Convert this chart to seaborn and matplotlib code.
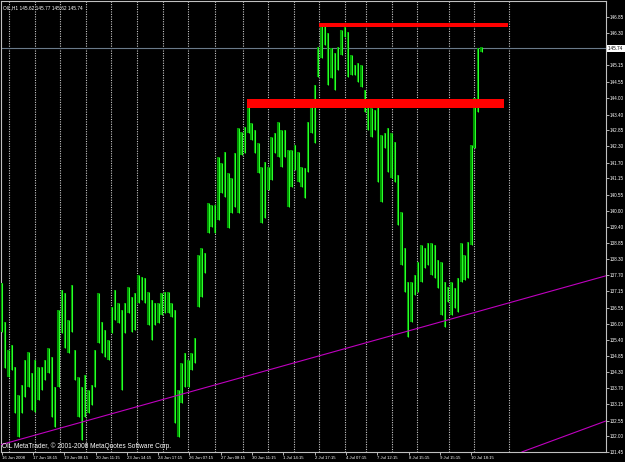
import numpy as np
import pandas as pd
import matplotlib
matplotlib.use("Agg")
import matplotlib.pyplot as plt
import matplotlib.transforms as mtransforms
import seaborn as sns

# ---------------- data ----------------
highs = [137.43, 136.05, 135.06, 135.24, 134.46, 133.47, 133.82, 134.71, 134.99, 134.25,
         134.71, 134.46, 134.46, 134.71, 135.13, 134.81, 133.75, 136.48, 137.19, 137.08,
         136.12, 137.36, 135.06, 134.11, 133.75, 134.18, 133.65, 133.82, 135.06, 137.08,
         136.05, 135.77, 135.42, 136.58, 137.19, 136.73, 136.48, 136.73, 137.29, 136.94,
         137.08, 137.72, 137.65, 137.61, 137.12, 136.83, 136.73, 136.73, 137.08, 137.12,
         137.12,
         136.73, 136.48, 133.65, 134.60, 134.96, 134.71, 134.96, 135.49, 138.43, 138.67,
         138.50, 140.27, 140.20, 140.20, 141.89, 141.68, 142.07, 141.33, 141.15, 142.04,
         142.92, 142.78, 142.96, 143.84, 143.10, 142.85, 142.39, 141.54, 141.72, 141.54,
         142.60, 142.74, 143.13, 142.85, 142.85, 142.14, 142.14, 142.32, 142.07, 141.54,
         141.51, 143.13, 143.74,
         144.44, 145.79, 146.57, 146.64, 146.28, 145.75, 145.58, 145.79, 146.39, 146.50,
         146.32, 145.51, 145.15, 145.22, 145.15, 144.27, 143.91, 143.63, 143.56, 143.84,
         142.67, 142.74, 142.92, 142.74, 142.43, 141.26, 139.95, 138.67, 137.47, 137.47,
         137.72, 138.18, 138.78, 138.67, 138.85, 138.85, 138.78, 138.25, 138.18, 137.47,
         137.29, 137.47, 137.26, 137.61, 138.85, 138.43, 138.89, 142.32, 143.98, 145.75,
         145.79]
lows = [135.70, 134.43, 134.11, 134.35, 132.83, 131.98, 132.83, 133.40, 133.75, 132.94,
        132.87, 133.29, 133.65, 134.00, 134.25, 132.69, 132.34, 133.75, 135.66, 135.13,
        134.96, 135.70, 134.00, 132.69, 131.88, 132.69, 132.83, 133.12, 133.75, 135.31,
        134.96, 134.81, 134.71, 135.66, 136.12, 136.02, 133.65, 135.66, 136.37, 135.70,
        135.77, 136.73, 136.83, 136.73, 135.95, 135.42, 135.95, 136.02, 136.30, 136.37,
        136.37,
        136.23, 132.48, 131.98, 133.19, 133.75, 133.75, 134.35, 134.60, 136.58, 136.94,
        137.79, 139.20, 139.42, 139.20, 139.66, 140.62, 140.48, 139.38, 139.91, 140.12,
        139.91, 141.97, 142.04, 142.74, 142.50, 142.04, 141.33, 139.56, 139.73, 140.73,
        141.08, 142.04, 141.89, 141.54, 141.89, 140.12, 140.83, 141.43, 141.01, 140.83,
        140.44, 141.36, 142.74,
        142.39, 144.73, 145.40, 145.86, 144.44, 144.69, 144.27, 144.97, 145.51, 146.14,
        144.73, 144.80, 144.80, 144.55, 144.37, 143.49, 142.85, 142.60, 142.85, 141.01,
        140.30, 142.21, 141.36, 141.15, 141.01, 139.49, 138.07, 137.12, 135.52, 136.05,
        137.01, 137.12, 137.47, 137.97, 138.07, 137.72, 137.61, 137.26, 136.30, 135.88,
        136.76, 136.30, 136.55, 136.41, 137.47, 137.54, 137.61, 138.78, 142.21, 143.49,
        145.61]

date_labels = ["16 Jun 2008", "17 Jun 18:15", "19 Jun 08:15", "20 Jun 11:15",
               "23 Jun 14:15", "24 Jun 17:15", "26 Jun 07:15", "27 Jun 08:15",
               "30 Jun 11:15", "1 Jul 14:15", "2 Jul 17:15", "4 Jul 07:15",
               "7 Jul 12:15", "8 Jul 15:15", "9 Jul 15:15", "10 Jul 18:15"]
date_label_bars = [0.0, 9.4, 18.8, 28.2, 37.6, 47.0, 56.4, 65.8, 75.2, 84.6,
                   94.0, 103.4, 112.8, 122.2, 131.6, 141.0]

price_ticks = [146.85, 146.30, 145.15, 144.55, 144.00, 143.40, 142.85, 142.30,
               141.70, 141.15, 140.55, 140.00, 139.40, 138.85, 138.30, 137.70,
               137.15, 136.55, 136.00, 135.40, 134.85, 134.30, 133.70, 133.15,
               132.55, 132.00, 131.45]
current_price = 145.74
header_text = "OIL,H1 145.62 145.77 145.62 145.74"
footer_text = "OIL MetaTrader, \u00a9 2001-2008 MetaQuotes Software Corp."

grid_bars = [2.29, 10.0, 17.59, 25.3, 32.89, 40.6, 48.31, 55.99, 64.21, 72.4,
             79.99, 87.7, 95.29, 103.09, 109.39, 117.19, 124.69, 134.29, 141.79, 152.29]

# resistance zones: (start bar, end bar, low price, high price)
zone_upper = (95.3, 152.0, 146.49, 146.65)
zone_lower = (73.7, 150.8, 143.64, 143.95)

trend1_x = [-0.2, 181.5]
trend1_y = [131.71, 137.69]
trend2_x = [156.2, 181.5]
trend2_y = [131.45, 132.55]

# ---------------- drawing ----------------
sns.set_style("dark", {"axes.facecolor": "black", "figure.facecolor": "black"})
plt.rcParams['font.family'] = ['Liberation Sans', 'DejaVu Sans']

fig = plt.figure(figsize=(6.25, 4.62), dpi=100, facecolor="black")
W, H = 625, 462
ax = fig.add_axes([1 / W, (H - 452) / H, 605 / W, 451 / H])
ax.set_facecolor("black")

n = len(highs)
idx = np.arange(n)
bars_df = pd.DataFrame({
    "bar": np.repeat(idx, 2),
    "price": np.ravel(np.column_stack([lows, highs])),
})

# vertical dotted grid
for g in grid_bars:
    ax.axvline(g, color="#c8c8c8", linewidth=0.8, linestyle=(0, (1, 1.2)), zorder=1)

sns.lineplot(data=bars_df, x="bar", y="price", units="bar", estimator=None,
             color="#009a00", linewidth=1.5, solid_capstyle="butt", ax=ax,
             legend=False, zorder=3)
bars_df2 = bars_df.assign(bar=bars_df["bar"] + 0.15)
sns.lineplot(data=bars_df2, x="bar", y="price", units="bar", estimator=None,
             color="#2bff2b", linewidth=0.75, solid_capstyle="butt", ax=ax,
             legend=False, zorder=4)

# current price line
ax.axhline(current_price, color="#6a7a8a", linewidth=0.8, zorder=2)

# resistance zones
for (x0, x1, y0, y1) in (zone_upper, zone_lower):
    ax.fill_between([x0, x1], [y0, y0], [y1, y1], color="#ff0000", linewidth=0, zorder=5)

# trend lines
sns.lineplot(x=trend1_x, y=trend1_y, color="#c000c0", linewidth=0.8, ax=ax, zorder=6)
sns.lineplot(x=trend2_x, y=trend2_y, color="#c000c0", linewidth=0.8, ax=ax, zorder=6)

ax.set_xlim(-0.2, 181.5)
ax.set_ylim(131.45, 147.42)
ax.set_xlabel("")
ax.set_ylabel("")
ax.grid(False)

# axes / ticks
ax.yaxis.tick_right()
ax.set_yticks(price_ticks)
ax.set_yticklabels([f"{v:.2f}" for v in price_ticks])
ax.set_xticks(date_label_bars)
ax.set_xticklabels(date_labels)
for lbl in ax.get_xticklabels():
    lbl.set_horizontalalignment("left")
ax.tick_params(axis="y", which="both", right=True, left=False, direction="out",
               length=2, width=0.6, color="#d0d0d0", labelcolor="white",
               labelsize=3.3, pad=1.0)
ax.tick_params(axis="x", which="both", bottom=True, direction="out",
               length=2, width=0.6, color="#d0d0d0", labelcolor="white",
               labelsize=3.1, pad=0.8)
for s in ["left", "top", "right", "bottom"]:
    ax.spines[s].set_visible(True)
    ax.spines[s].set_color("#c0c0c0")
    ax.spines[s].set_linewidth(0.8)

# current price tag
trans = mtransforms.blended_transform_factory(ax.transAxes, ax.transData)
ax.text(1.004, current_price, f"{current_price:.2f} ", transform=trans, ha="left",
        va="center", fontsize=3.3, color="black", clip_on=False, zorder=10,
        bbox=dict(boxstyle="square,pad=0.25", fc="white", ec="none"))

# header / footer
ax.text(0.003, 0.991, header_text, transform=ax.transAxes, ha="left", va="top",
        fontsize=3.4, color="white", zorder=10)
ax.text(0.002, 0.004, footer_text, transform=ax.transAxes, ha="left", va="bottom",
        fontsize=4.7, color="white", zorder=10)

fig.savefig("out.png", dpi=100, facecolor="black")
